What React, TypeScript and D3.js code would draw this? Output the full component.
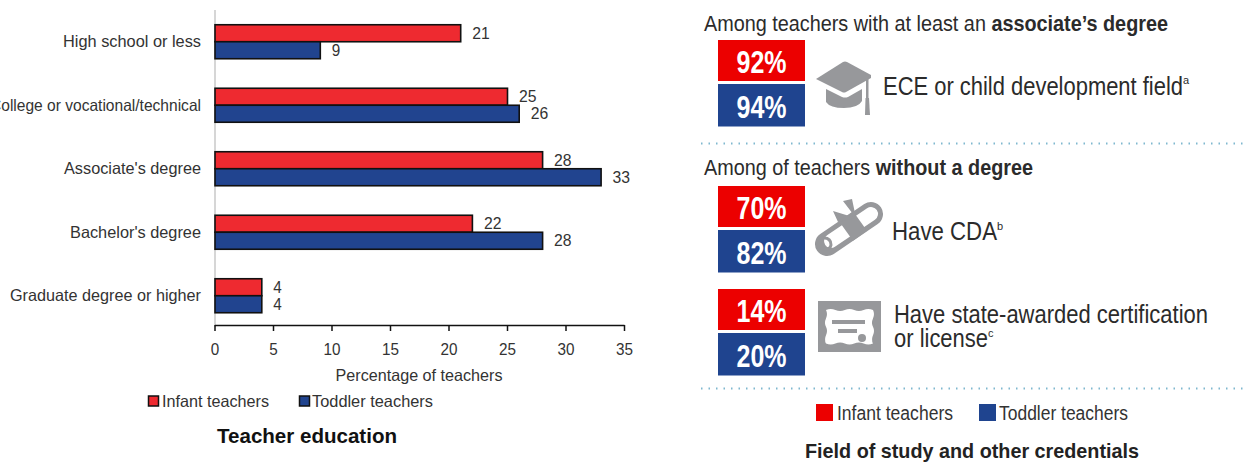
import React from "react";
import * as d3 from "d3";

const categories = [
  "High school or less",
  "College or vocational/technical",
  "Associate's degree",
  "Bachelor's degree",
  "Graduate degree or higher",
];
const categoryWidths = [138, 211, 137, 131, 191];
const infantValues = [21, 25, 28, 22, 4];
const toddlerValues = [9, 26, 33, 28, 4];
const xTicks = [0, 5, 10, 15, 20, 25, 30, 35];

const credentialInfant = [92, 70, 14];
const credentialToddler = [94, 82, 20];

const RED = "#ee2a30";
const BLUE = "#21448f";
const PANEL_RED = "#ec0000";
const PANEL_BLUE = "#1f448f";
const INK = "#333333";
const GREY = "#97989b";
const FONT = "'Liberation Sans', Arial, sans-serif";

const x = d3.scaleLinear().domain([0, 35]).range([215, 624.5]);
const y = d3.scaleBand().domain(categories).range([10, 327.5]);
const inner = d3.scaleBand().domain(["infant", "toddler"]).range([-17, 17]);

// squeezes a label to the width it has in the picture
const Label = ({ w, ...props }: any) => (
  <text fontFamily={FONT} lengthAdjust="spacingAndGlyphs" textLength={w} {...props} />
);

const Bar = ({ cat, v, kind, fill }: any) => {
  const mid = y(cat)! + y.bandwidth() / 2;
  return (
    <g>
      <rect
        x={x(0)}
        y={mid + inner(kind)!}
        width={x(v) - x(0)}
        height={inner.bandwidth()}
        fill={fill}
        stroke="#111"
        strokeWidth={1.6}
      />
      <Label
        x={x(v) + 11.5}
        y={mid + inner(kind)! + inner.bandwidth() / 2 + 5.5}
        fontSize={16.5}
        fill={INK}
        w={v < 10 ? 8.5 : 17.5}
      >
        {v}
      </Label>
    </g>
  );
};

const boxX = d3.scaleLinear().domain([0, 1]).range([718, 805]);
const rowTops = [40, 186, 289];

const ValueBox = ({ top, infant, toddler }: any) => (
  <g fontFamily={FONT} fontWeight="bold" fontSize={31} fill="#fff" textAnchor="middle">
    <rect x={boxX(0)} y={top} width={boxX(1) - boxX(0)} height={41} fill={PANEL_RED} />
    <rect x={boxX(0)} y={top + 44} width={boxX(1) - boxX(0)} height={42.5} fill={PANEL_BLUE} />
    <text x={0} y={0} textLength={50} lengthAdjust="spacingAndGlyphs" transform={`translate(${boxX(0.5)} ${top + 33})`}>
      {infant}%
    </text>
    <text x={0} y={0} textLength={50} lengthAdjust="spacingAndGlyphs" transform={`translate(${boxX(0.5)} ${top + 78})`}>
      {toddler}%
    </text>
  </g>
);

const CapIcon = () => (
  <g fill={GREY}>
    <path d="M816 79 L843 62 Q845 61 847 62 L871 75 L871 78 L846 92 Q844 93 842 92 Z" />
    <path d="M826 89 L842 97 Q845 98 848 97 L862 89 L862 101 Q858 108 844 108 Q830 108 826 102 Z" />
    <rect x={866} y={78} width={2.5} height={20} />
    <path d="M865.5 98 L869 98 L870 115 L865 115 Z" />
  </g>
);

const ScrollIcon = () => (
  <g fill="none">
    <path d="M827 244 L871 214" stroke={GREY} strokeWidth={24} strokeLinecap="round" />
    <path d="M831 241 L871 214" stroke="#fff" strokeWidth={14} strokeLinecap="round" />
    <path d="M846 231 L860 221" stroke={GREY} strokeWidth={24} />
    <path d="M824 238 Q831 238 831 245 Q830 250 824 249" stroke={GREY} strokeWidth={3} />
    <path d="M856 218 L838 222 L833 211 Z M856 218 L843 201 L852 199 Z" fill={GREY} />
  </g>
);

const CertificateIcon = () => (
  <g>
    <rect x={818} y={301} width={63} height={51} fill={GREY} />
    <path
      d="M826 310 q4.7 -2 9.4 0 t9.4 0 t9.4 0 t9.4 0 t9.4 0 q2 4.2 0 8.4 t0 8.4 t0 8.4 t0 8.4 q-4.7 2 -9.4 0 t-9.4 0 t-9.4 0 t-9.4 0 t-9.4 0 q-2 -4.2 0 -8.4 t0 -8.4 t0 -8.4 t0 -8.4 Z"
      fill="#fff"
    />
    <rect x={832} y={320} width={33} height={4} fill={GREY} />
    <rect x={838} y={329} width={19} height={4} fill={GREY} />
    <circle cx={862} cy={338} r={4} fill={GREY} />
  </g>
);

export default function App() {
  return (
    <svg width={1246} height={464} style={{ position: "absolute", left: 0, top: 0 }}>
      <rect width={1246} height={464} fill="#fff" />

      {/* left chart */}
      <line x1={x(0)} x2={x(0)} y1={10} y2={327} stroke="#c9c9c9" strokeWidth={1.5} />
      {categories.map((c, i) => (
        <g key={c}>
          <Bar cat={c} v={infantValues[i]} kind="infant" fill={RED} />
          <Bar cat={c} v={toddlerValues[i]} kind="toddler" fill={BLUE} />
          <Label
            x={201}
            y={y(c)! + y.bandwidth() / 2 + 5.5}
            textAnchor="end"
            fontSize={16.5}
            fill={INK}
            w={categoryWidths[i]}
          >
            {c}
          </Label>
        </g>
      ))}
      <line x1={x(0)} x2={x(35)} y1={325.5} y2={325.5} stroke="#111" strokeWidth={1.5} />
      {xTicks.map((t) => (
        <g key={t}>
          <line x1={x(t)} x2={x(t)} y1={325} y2={331} stroke="#111" strokeWidth={1.5} />
          <Label x={x(t)} y={355} fontSize={16.5} fill={INK} textAnchor="middle" w={t < 10 ? 8.5 : 17}>
            {t}
          </Label>
        </g>
      ))}
      <Label x={419} y={381} textAnchor="middle" fontSize={16.5} fill={INK} w={167}>
        Percentage of teachers
      </Label>
      <rect x={148.5} y={396} width={10} height={10} fill={RED} stroke="#111" strokeWidth={1.5} />
      <Label x={162} y={407} fontSize={16.5} fill={INK} w={107}>
        Infant teachers
      </Label>
      <rect x={299.5} y={396} width={10} height={10} fill={BLUE} stroke="#111" strokeWidth={1.5} />
      <Label x={312} y={407} fontSize={16.5} fill={INK} w={121}>
        Toddler teachers
      </Label>
      <Label x={217} y={443} fontSize={20} fontWeight="bold" fill="#111" w={180}>
        Teacher education
      </Label>

      {/* right panel */}
      <text x={704} y={31} fontFamily={FONT} fontSize={22.5} fill="#2b2b2b" textLength={464} lengthAdjust="spacingAndGlyphs">
        Among teachers with at least an <tspan fontWeight="bold">associate’s degree</tspan>
      </text>
      <text x={704} y={175} fontFamily={FONT} fontSize={22.5} fill="#2b2b2b" textLength={329} lengthAdjust="spacingAndGlyphs">
        Among of teachers <tspan fontWeight="bold">without a degree</tspan>
      </text>
      {rowTops.map((top, i) => (
        <ValueBox key={top} top={top} infant={credentialInfant[i]} toddler={credentialToddler[i]} />
      ))}
      <CapIcon />
      <ScrollIcon />
      <CertificateIcon />
      <text x={883} y={95} fontFamily={FONT} fontSize={25.5} fill="#2b2b2b" textLength={300} lengthAdjust="spacingAndGlyphs">
        ECE or child development field
      </text>
      <text x={1183} y={84} fontFamily={FONT} fontSize={11} fill="#2b2b2b">a</text>
      <text x={997} y={230} fontFamily={FONT} fontSize={11} fill="#2b2b2b">b</text>
      <text x={892} y={240} fontFamily={FONT} fontSize={25.5} fill="#2b2b2b" textLength={105} lengthAdjust="spacingAndGlyphs">
        Have CDA
      </text>
      <text x={894} y={323} fontFamily={FONT} fontSize={25.5} fill="#2b2b2b" textLength={314} lengthAdjust="spacingAndGlyphs">
        Have state-awarded certification
      </text>
      <text x={894} y={347} fontFamily={FONT} fontSize={25.5} fill="#2b2b2b" textLength={94} lengthAdjust="spacingAndGlyphs">
        or license
      </text>
      <text x={988} y={337} fontFamily={FONT} fontSize={11} fill="#2b2b2b">c</text>
      {[143.5, 388.5].map((d) => (
        <line key={d} x1={701} x2={1246} y1={d} y2={d} stroke="#7fb8cf" strokeWidth={2} strokeDasharray="1.5 6" />
      ))}
      <rect x={816} y={404} width={17} height={17} fill={PANEL_RED} />
      <Label x={837} y={420} fontSize={19.5} fill="#333" w={116}>
        Infant teachers
      </Label>
      <rect x={979} y={404} width={17} height={17} fill={PANEL_BLUE} />
      <Label x={999} y={420} fontSize={19.5} fill="#333" w={129}>
        Toddler teachers
      </Label>
      <Label x={805} y={458} fontSize={21} fontWeight="bold" fill="#222" w={334}>
        Field of study and other credentials
      </Label>
    </svg>
  );
}
